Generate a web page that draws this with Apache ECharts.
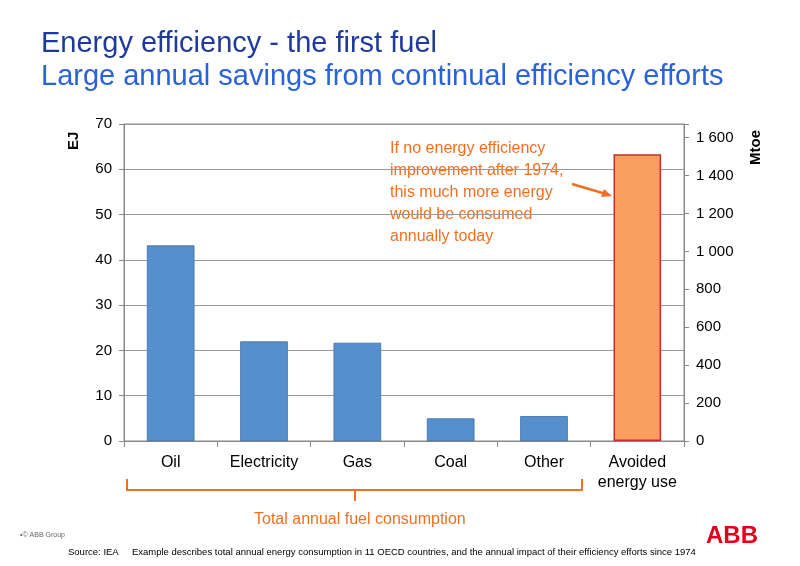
<!DOCTYPE html>
<html><head><meta charset="utf-8">
<script src="https://cdn.jsdelivr.net/npm/echarts@6/dist/echarts.min.js"></script>
<style>html,body{margin:0;padding:0;background:#fff}#c{width:800px;height:566px}</style>
</head><body><div id="c"></div>
<script>
const categories = ['Oil','Electricity','Gas','Coal','Other','Avoided\nenergy use'];
const valuesEJ = [43.2, 22.0, 21.7, 5.0, 5.5, 63.3];
const leftTicks = [0,10,20,30,40,50,60,70];
const rightTicks = [0,200,400,600,800,1000,1200,1400,1600];
const EJ_TO_MTOE = 23.88;

const chart = echarts.init(document.getElementById('c'));
const orange = '#f07020';
chart.setOption({
  animation:false,
  textStyle:{fontFamily:'Liberation Sans, Arial, sans-serif'},
  title:[
    {text:'Energy efficiency - the first fuel', left:36, top:24, textStyle:{fontSize:29, fontWeight:'normal', color:'#1f3a9c'}},
    {text:'Large annual savings from continual efficiency efforts', left:36, top:57, textStyle:{fontSize:29, fontWeight:'normal', color:'#2a62d8'}}
  ],
  grid:{left:124, right:116, top:124, bottom:125},
  xAxis:{type:'category', data:categories,
    axisLine:{lineStyle:{color:'#888'}},
    axisTick:{show:true, interval:0, alignWithLabel:false, length:6, lineStyle:{color:'#888'}},
    axisLabel:{interval:0, fontSize:16, color:'#000', margin:12, lineHeight:20}},
  yAxis:[
    {type:'value', min:0, max:70, interval:10,
      axisLine:{show:true, lineStyle:{color:'#888'}},
      axisTick:{show:true, length:5, lineStyle:{color:'#888'}},
      axisLabel:{fontSize:15, color:'#000', margin:12},
      splitLine:{lineStyle:{color:'#999'}}},
    {type:'value', min:0, max:70*EJ_TO_MTOE, interval:200, position:'right',
      axisLine:{show:true, lineStyle:{color:'#888'}},
      axisTick:{show:true, length:5, lineStyle:{color:'#888'}},
      axisLabel:{fontSize:15, color:'#000', margin:12,
        formatter:v=> rightTicks.includes(v) ? String(v).replace(/\B(?=(\d{3})+(?!\d))/g,' ') : ''},
      splitLine:{show:false}}
  ],
  series:[{type:'bar', barWidth:'51%',
    data: valuesEJ.map((v,i)=>({value:v, itemStyle: i===5 ?
      {color:'#f9a060', borderColor:'#c0302a', borderWidth:1.5} :
      {color:'#5590cc', borderColor:'#3a6ea8', borderWidth:0.8}}))}],
  graphic:[
    {type:'rect', shape:{x:124,y:124,width:560,height:317}, style:{fill:'none', stroke:'#888', lineWidth:1}, silent:true},
    {type:'text', x:66, y:150, rotation:Math.PI/2, style:{text:'EJ', font:'bold 15px Liberation Sans, Arial', fill:'#000'}},
    {type:'text', x:748, y:165, rotation:Math.PI/2, style:{text:'Mtoe', font:'bold 15px Liberation Sans, Arial', fill:'#000'}},
    {type:'text', left:390, top:138, style:{text:'If no energy efficiency\nimprovement after 1974,\nthis much more energy\nwould be consumed\nannually today', font:'16px Liberation Sans, Arial', fill:orange, lineHeight:22}},
    {type:'line', shape:{x1:572,y1:184,x2:606,y2:194}, style:{stroke:orange, lineWidth:2.5}},
    {type:'polygon', shape:{points:[[612,196],[601,197],[604,189]]}, style:{fill:orange}},
    {type:'polyline', shape:{points:[[127,479],[127,490],[355,490],[355,501]]}, style:{stroke:orange, lineWidth:2, fill:'none'}},
    {type:'polyline', shape:{points:[[582,479],[582,490],[355,490]]}, style:{stroke:orange, lineWidth:2, fill:'none'}},
    {type:'text', left:254, top:512, style:{text:'Total annual fuel consumption', font:'16px Liberation Sans, Arial', fill:orange}},
    {type:'text', left:20, top:532, style:{text:'•© ABB Group', font:'7px Liberation Sans, Arial', fill:'#666'}},
    {type:'text', left:68, top:547, style:{text:'Source: IEA     Example describes total annual energy consumption in 11 OECD countries, and the annual impact of their efficiency efforts since 1974', font:'9.5px Liberation Sans, Arial', fill:'#000'}},
    {type:'text', left:706, top:524, style:{text:'ABB', font:'bold 24px Liberation Sans, Arial', fill:'#e2001a'}}
  ]
});
</script></body></html>
